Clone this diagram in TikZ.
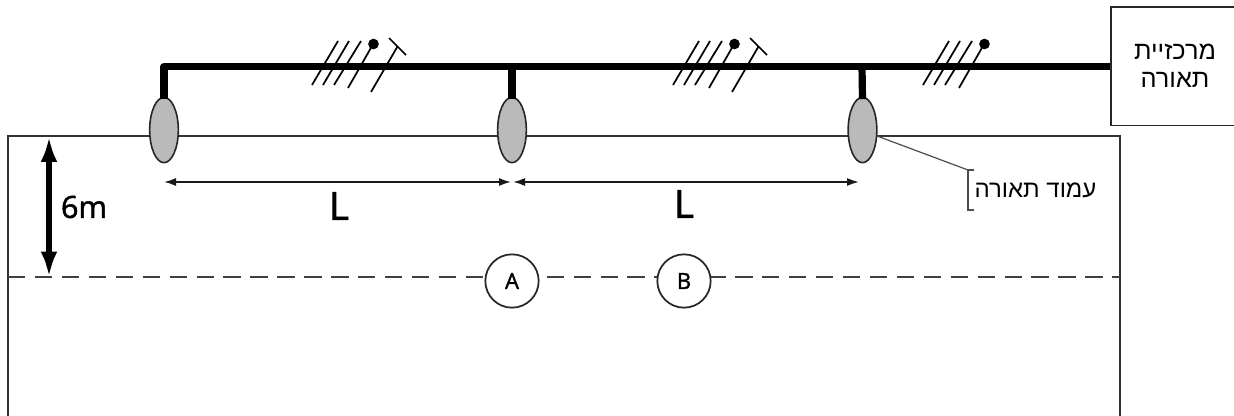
\documentclass[tikz,border=0pt]{standalone}
\usepackage{fontspec}
\setmainfont{Open Sans}
\newfontfamily\semibold[FakeBold=1.6]{Open Sans}
\newfontfamily\hebfont[Script=Hebrew]{Liberation Sans}
\TeXXeTstate=1
\usetikzlibrary{arrows.meta,shapes.geometric}
\tikzset{
  bus/.style={line width=5.4pt,line join=round},
  pole/.style={draw=black!85,fill=black!27,line width=1.2pt,ellipse,minimum width=21.5pt,minimum height=49pt,inner sep=0pt},
  wall/.style={draw=black!80,line width=1.3pt},
  dim/.style={draw=black!90,line width=1.25pt,{Latex[length=9pt,width=6pt]}-{Latex[length=9pt,width=6pt]}},
  bigdim/.style={draw=black,line width=4pt,{Latex[length=19pt,width=12.5pt]}-{Latex[length=19pt,width=12.5pt]}},
  tick/.style={draw=black,line width=1.3pt},
  dotmark/.style={circle,fill=black,inner sep=0pt,minimum size=8pt},
  spot/.style={circle,draw=black!85,fill=white,line width=1.3pt,minimum size=40pt,inner sep=0pt,font=\semibold\fontsize{16.5}{18}\selectfont},
  heb/.style={font=\hebfont\fontsize{19}{21}\selectfont,align=center,inner sep=0pt},
  hebsmall/.style={font=\hebfont\fontsize{18}{21}\selectfont,inner sep=0pt},
  biglabel/.style={font=\semibold\fontsize{29}{32}\selectfont,inner sep=0pt},
  midlabel/.style={font=\semibold\fontsize{23}{26}\selectfont,inner sep=0pt},
  leader/.style={draw=black!70,line width=0.9pt}
}
\newcommand{\ticks}[1]{%
  \draw[tick] (312+#1,85)--(338+#1,41);
  \draw[tick] (323+#1,85)--(349+#1,41);
  \draw[tick] (334+#1,85)--(361+#1,41);
  \draw[tick] (348+#1,88)--(372+#1,46);
  \node[dotmark] (dot#1) at (373.5+#1,44) {};
}
\newcommand{\tee}[1]{%
  \draw[tick] (371+#1,92)--(397.5+#1,46.5);
  \draw[tick] (389+#1,38)--(406+#1,55);
}
\begin{document}
\begin{tikzpicture}[x=0.75pt,y=-0.75pt]
\useasboundingbox (0,0) rectangle (1234,416);
\clip (0,0) rectangle (1234,416);
% room outline
\draw[wall] (8,425)--(8,136)--(1120,136)--(1120,425);
% dashed line
\coordinate (dl) at (8,277);
\coordinate (dr) at (1120,277);
\draw[draw=black!75,line width=0.85pt,dash pattern=on 13pt off 7.2pt] (dl)--(dr);
% central box
\node[draw=black!85,fill=white,line width=1.3pt,minimum width=93pt,minimum height=89pt,inner sep=0pt,anchor=north west] (box) at (1110,6) {};
\node[heb] (boxt) at (1175,66) {\beginR מרכזיית\endR\\\beginR תאורה\endR};
% coordinates on the bus
\coordinate (b0) at (164,66.5);
\coordinate (b1) at (512,66.5);
\coordinate (b2) at (862,66.5);
\coordinate (b3) at (box.west |- b2);
% poles
\node[pole] (p1) at (164,130) {};
\node[pole] (p2) at (512,130) {};
\node[pole] (p3) at (862.5,130) {};
% bus and drops
\draw[bus] ([yshift=-2pt]p1.north) -- (b0) -- (b3);
\draw[bus] (b1) -- ([yshift=-2pt]p2.north);
\draw[bus] (b2) -- ([yshift=-2pt]p3.north);
% wire ticks
\ticks{0}\tee{0}
\ticks{361}\tee{361}
\ticks{611}
% dimensions
\coordinate (d1) at (164,182);
\coordinate (d2) at (511,182);
\coordinate (d3) at (513,182);
\coordinate (d4) at (859,182);
\draw[dim] (d1)--(d2);
\draw[dim] (d3)--(d4);
\node[biglabel] (l1) at (339,206) {L};
\node[biglabel] (l2) at (684,204) {L};
\coordinate (h1) at (49,136.5);
\coordinate (h2) at (49,277);
\draw[bigdim] (h1)--(h2);
\node[midlabel] (six) at (84,207) {6m};
% spots
\node[spot] (A) at (512,281) {A};
\node[spot] (B) at (684,281) {B};
% leader
\coordinate (q) at (968,170);
\coordinate (q0) at (877,136);
\draw[leader] (q0) -- (q);
\draw[leader] (974,170)--(q)--(968,210)--(974,210);
\node[hebsmall] (post) at (1035.5,190) {\beginR עמוד תאורה\endR};
\end{tikzpicture}
\end{document}
